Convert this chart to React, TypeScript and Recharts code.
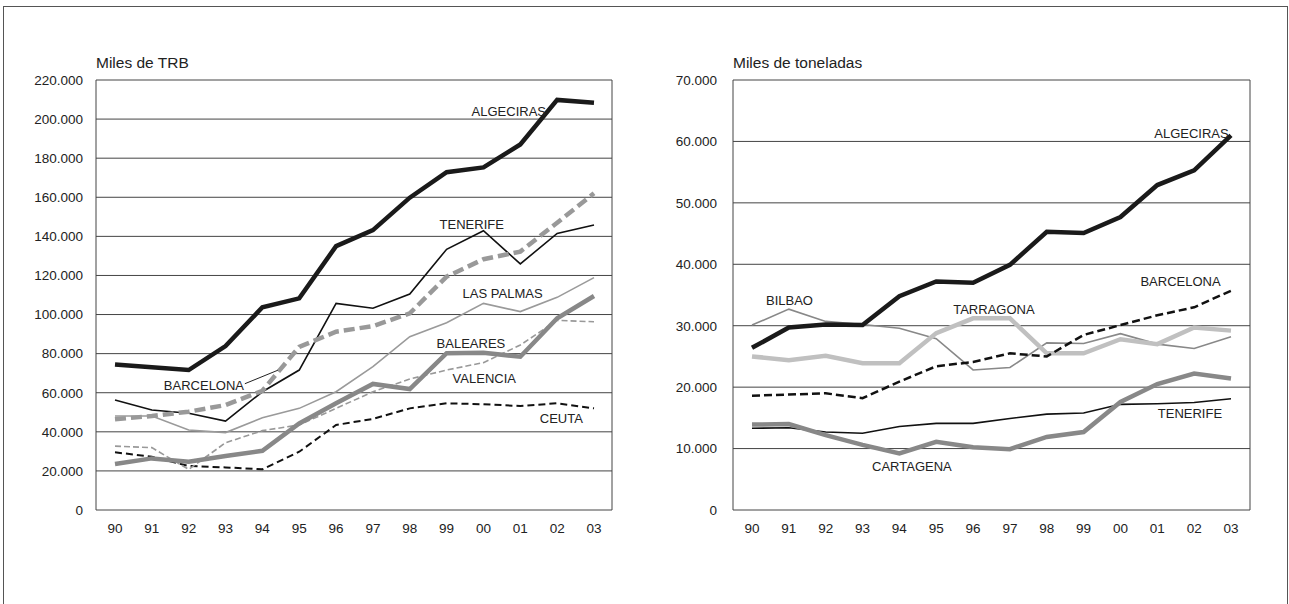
import React from 'react';
import { LineChart, Line, XAxis, YAxis, CartesianGrid, ReferenceDot } from 'recharts';

const years = ['90', '91', '92', '93', '94', '95', '96', '97', '98', '99', '00', '01', '02', '03'];

// Left chart: Miles de TRB
const trbAlgeciras = [74500, 73000, 71600, 83900, 103700, 108300, 135000, 143200, 159800, 172800, 175300, 187000, 209800, 208400];
const trbTenerife = [56300, 51200, 49500, 45500, 60500, 71600, 105700, 103200, 110500, 133400, 142900, 125900, 141500, 145800];
const trbBarcelona = [46400, 48100, 50300, 53700, 61000, 83500, 91200, 94100, 100600, 119400, 128300, 132200, 147000, 162000];
const trbLasPalmas = [48100, 48100, 40900, 39600, 47200, 52000, 60500, 73300, 88700, 95800, 105700, 101500, 108800, 118900];
const trbBaleares = [23500, 26400, 24700, 27600, 30300, 44300, 54600, 64500, 61900, 80200, 80500, 78400, 98100, 109500];
const trbValencia = [32700, 31900, 20800, 34400, 40600, 43500, 52000, 60500, 67000, 71600, 75400, 84400, 97000, 96300];
const trbCeuta = [29500, 27300, 22500, 21800, 20800, 29800, 43500, 46600, 52000, 54600, 54100, 53200, 54600, 52000];
const trbTicks = [0, 20000, 40000, 60000, 80000, 100000, 120000, 140000, 160000, 180000, 200000, 220000];

// Right chart: Miles de toneladas
const tonAlgeciras = [26400, 29700, 30200, 30100, 34800, 37200, 37000, 39900, 45300, 45100, 47700, 52900, 55300, 61000];
const tonBilbao = [30100, 32700, 30700, 30200, 29600, 27900, 22800, 23200, 27200, 27100, 28700, 27000, 26300, 28200];
const tonTarragona = [25000, 24400, 25100, 23900, 23900, 28800, 31200, 31200, 25500, 25500, 27800, 27000, 29700, 29200];
const tonBarcelona = [18600, 18800, 19000, 18200, 20900, 23400, 24100, 25500, 25000, 28500, 30100, 31700, 33000, 35700];
const tonTenerife = [13300, 13400, 12700, 12500, 13600, 14100, 14100, 14900, 15600, 15800, 17200, 17300, 17500, 18100];
const tonCartagena = [13900, 14000, 12200, 10600, 9200, 11100, 10200, 9900, 11900, 12700, 17600, 20500, 22200, 21400];
const tonTicks = [0, 10000, 20000, 30000, 40000, 50000, 60000, 70000];

const leftData = years.map((y, i) => ({
  year: y,
  ALGECIRAS: trbAlgeciras[i],
  TENERIFE: trbTenerife[i],
  BARCELONA: trbBarcelona[i],
  LASPALMAS: trbLasPalmas[i],
  BALEARES: trbBaleares[i],
  VALENCIA: trbValencia[i],
  CEUTA: trbCeuta[i],
}));

const rightData = years.map((y, i) => ({
  year: y,
  ALGECIRAS: tonAlgeciras[i],
  BILBAO: tonBilbao[i],
  TARRAGONA: tonTarragona[i],
  BARCELONA: tonBarcelona[i],
  TENERIFE: tonTenerife[i],
  CARTAGENA: tonCartagena[i],
}));

const FONT = '"Liberation Sans", Arial, Helvetica, sans-serif';

type SeriesStyle = { key: string; color: string; width: number; dash?: string };

const leftSeries: SeriesStyle[] = [
  { key: 'CEUTA', color: '#111', width: 2, dash: '7 4' },
  { key: 'VALENCIA', color: '#999', width: 1.6, dash: '6 3' },
  { key: 'LASPALMAS', color: '#9a9a9a', width: 1.6 },
  { key: 'TENERIFE', color: '#111', width: 1.6 },
  { key: 'BALEARES', color: '#888', width: 4.5 },
  { key: 'BARCELONA', color: '#999', width: 4.5, dash: '11 5' },
  { key: 'ALGECIRAS', color: '#1a1a1a', width: 4.5 },
];

const rightSeries: SeriesStyle[] = [
  { key: 'BILBAO', color: '#888', width: 1.6 },
  { key: 'TENERIFE', color: '#111', width: 1.6 },
  { key: 'TARRAGONA', color: '#c0c0c0', width: 4.5 },
  { key: 'CARTAGENA', color: '#888', width: 4.5 },
  { key: 'BARCELONA', color: '#111', width: 2.5, dash: '8 4' },
  { key: 'ALGECIRAS', color: '#1a1a1a', width: 4.5 },
];

type Annot = { text: string; year: string; value: number; dx: number; dy: number; leader?: number[] };

const leftLabels: Annot[] = [
  { text: 'ALGECIRAS', year: '99', value: 200000, dx: 25, dy: -8 },
  { text: 'TENERIFE', year: '99', value: 140000, dx: -7, dy: -12 },
  { text: 'LAS PALMAS', year: '99', value: 100000, dx: 16, dy: -21 },
  { text: 'BALEARES', year: '99', value: 80000, dx: -10, dy: -10.5 },
  { text: 'VALENCIA', year: '99', value: 60000, dx: 6, dy: -14.5 },
  { text: 'BARCELONA', year: '91', value: 60000, dx: 12, dy: -7.5, leader: [93, -9, 126, -22.5] },
  { text: 'CEUTA', year: '01', value: 40000, dx: 19.5, dy: -13.5 },
];

const rightLabels: Annot[] = [
  { text: 'ALGECIRAS', year: '01', value: 60000, dx: -3, dy: -8 },
  { text: 'BARCELONA', year: '00', value: 40000, dx: 20, dy: 17.5 },
  { text: 'BILBAO', year: '90', value: 30000, dx: 14, dy: -25.5 },
  { text: 'TARRAGONA', year: '95', value: 30000, dx: 17, dy: -16.5 },
  { text: 'TENERIFE', year: '01', value: 20000, dx: 0.5, dy: 26 },
  { text: 'CARTAGENA', year: '93', value: 10000, dx: 9.5, dy: 18 },
];

const fmt = (v: number) => (v === 0 ? '0' : `${v / 1000}.000`);

const labelShape = (a: Annot) => (p: any) => {
  const x = p.cx + a.dx;
  const y = p.cy + a.dy;
  return (
    <g>
      <text x={x} y={y} fontSize={13} fill="#222" dominantBaseline="central" fontFamily={FONT}>
        {a.text}
      </text>
      {a.leader ? (
        <line
          x1={p.cx + a.leader[0]}
          y1={p.cy + a.leader[1]}
          x2={p.cx + a.leader[2]}
          y2={p.cy + a.leader[3]}
          stroke="#222"
          strokeWidth={1}
        />
      ) : null}
    </g>
  );
};

const gridV = ({ offset }: any) => [offset.left, offset.left + offset.width];

function Panel(props: {
  data: any[];
  series: SeriesStyle[];
  labels: Annot[];
  ticks: number[];
  marginLeft: number;
  marginRight: number;
  padL: number;
  padR: number;
  tickMargin: number;
}) {
  const { data, series, labels, ticks } = props;
  return (
    <LineChart
      width={640}
      height={560}
      data={data}
      margin={{ top: 80, right: props.marginRight, bottom: 20, left: props.marginLeft }}
    >
      <CartesianGrid
        stroke="#444"
        strokeWidth={1}
        vertical={true}
        horizontal={true}
        verticalCoordinatesGenerator={gridV}
      />
      <XAxis
        dataKey="year"
        height={30}
        padding={{ left: props.padL, right: props.padR }}
        tickLine={false}
        axisLine={false}
        tickMargin={7}
        interval={0}
        tick={{ fontSize: 13.5, fill: '#222', fontFamily: FONT }}
      />
      <YAxis
        width={60}
        domain={[ticks[0], ticks[ticks.length - 1]]}
        ticks={ticks}
        tickFormatter={fmt}
        tickLine={false}
        axisLine={false}
        tickMargin={props.tickMargin}
        interval={0}
        tick={{ fontSize: 13.5, fill: '#222', fontFamily: FONT }}
      />
      {series.map((s) => (
        <Line
          key={s.key}
          type="linear"
          dataKey={s.key}
          stroke={s.color}
          strokeWidth={s.width}
          strokeDasharray={s.dash}
          dot={false}
          activeDot={false}
          isAnimationActive={false}
          strokeLinejoin="miter"
        />
      ))}
      {labels.map((a) => (
        <ReferenceDot
          key={a.text}
          x={a.year}
          y={a.value}
          r={0}
          ifOverflow="visible"
          shape={labelShape(a)}
        />
      ))}
    </LineChart>
  );
}

export default function App() {
  return (
    <div
      style={{
        position: 'absolute',
        left: 0,
        top: 0,
        width: 1289,
        height: 604,
        overflow: 'hidden',
        background: '#fff',
        fontFamily: FONT,
      }}
    >
      <div
        style={{
          position: 'absolute',
          left: 3,
          top: 6,
          width: 1285,
          height: 640,
          boxSizing: 'border-box',
          border: '1.5px solid #555',
        }}
      />
      <div style={{ position: 'absolute', left: 96, top: 54, fontSize: 15.5, color: '#222', whiteSpace: 'nowrap' }}>
        Miles de TRB
      </div>
      <div style={{ position: 'absolute', left: 733, top: 54, fontSize: 15.5, color: '#222', whiteSpace: 'nowrap' }}>
        Miles de toneladas
      </div>
      <div style={{ position: 'absolute', left: 0, top: 0 }}>
        <Panel
          data={leftData}
          series={leftSeries}
          labels={leftLabels}
          ticks={trbTicks}
          marginLeft={36}
          marginRight={28}
          padL={19}
          padR={18}
          tickMargin={7}
        />
      </div>
      <div style={{ position: 'absolute', left: 640, top: 0 }}>
        <Panel
          data={rightData}
          series={rightSeries}
          labels={rightLabels}
          ticks={tonTicks}
          marginLeft={33}
          marginRight={30}
          padL={19}
          padR={19}
          tickMargin={10}
        />
      </div>
    </div>
  );
}
